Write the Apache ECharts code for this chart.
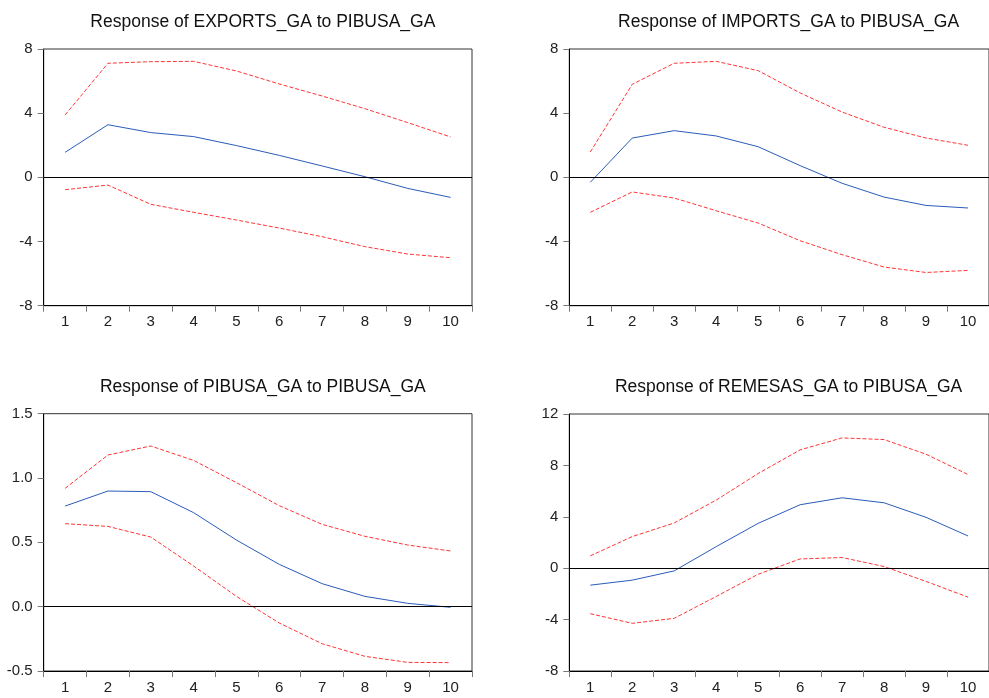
<!DOCTYPE html>
<html>
<head>
<meta charset="utf-8">
<script src="https://cdn.jsdelivr.net/npm/echarts@6/dist/echarts.min.js"></script>
<style>
  html, body { margin: 0; padding: 0; background: #fff; }
  #chart { width: 989px; height: 698px; }
</style>
</head>
<body>
<div id="chart"></div>
<script>
// periods
var periods = ['1', '2', '3', '4', '5', '6', '7', '8', '9', '10'];

// Response of EXPORTS_GA to PIBUSA_GA
var exportsResp  = [1.56, 3.28, 2.79, 2.54, 1.98, 1.37, 0.71, 0.04, -0.69, -1.25];
var exportsUpper = [3.89, 7.11, 7.21, 7.23, 6.63, 5.82, 5.07, 4.28, 3.41, 2.52];
var exportsLower = [-0.77, -0.48, -1.68, -2.18, -2.66, -3.16, -3.70, -4.32, -4.78, -5.01];

// Response of IMPORTS_GA to PIBUSA_GA
var importsResp  = [-0.31, 2.45, 2.91, 2.58, 1.91, 0.73, -0.37, -1.23, -1.75, -1.91];
var importsUpper = [1.58, 5.80, 7.11, 7.23, 6.65, 5.26, 4.07, 3.12, 2.45, 2.00];
var importsLower = [-2.18, -0.91, -1.29, -2.08, -2.85, -3.95, -4.82, -5.59, -5.93, -5.80];

// Response of PIBUSA_GA to PIBUSA_GA
var pibusaResp  = [0.782, 0.899, 0.894, 0.731, 0.518, 0.329, 0.179, 0.080, 0.026, -0.005];
var pibusaUpper = [0.920, 1.179, 1.249, 1.137, 0.964, 0.785, 0.640, 0.547, 0.479, 0.433];
var pibusaLower = [0.645, 0.624, 0.541, 0.316, 0.080, -0.127, -0.288, -0.386, -0.433, -0.435];

// Response of REMESAS_GA to PIBUSA_GA
var remesasResp  = [-1.32, -0.93, -0.21, 1.68, 3.49, 4.94, 5.48, 5.09, 3.96, 2.51];
var remesasUpper = [0.96, 2.46, 3.52, 5.30, 7.37, 9.21, 10.14, 10.01, 8.87, 7.29];
var remesasLower = [-3.54, -4.29, -3.90, -2.20, -0.47, 0.72, 0.83, 0.13, -1.03, -2.25];

var panels = [
  { title: 'Response of EXPORTS_GA to PIBUSA_GA', resp: exportsResp, up: exportsUpper, lo: exportsLower,
    min: -8, max: 8, interval: 4, dec: 0, left: 43.7, top: 49, width: 428.3, height: 256.7 },
  { title: 'Response of IMPORTS_GA to PIBUSA_GA', resp: importsResp, up: importsUpper, lo: importsLower,
    min: -8, max: 8, interval: 4, dec: 0, left: 569.3, top: 49, width: 428.6, height: 256.7 },
  { title: 'Response of PIBUSA_GA to PIBUSA_GA', resp: pibusaResp, up: pibusaUpper, lo: pibusaLower,
    min: -0.5, max: 1.5, interval: 0.5, dec: 1, left: 43.7, top: 413.7, width: 428.3, height: 257.3 },
  { title: 'Response of REMESAS_GA to PIBUSA_GA', resp: remesasResp, up: remesasUpper, lo: remesasLower,
    min: -8, max: 12, interval: 4, dec: 0, left: 569.3, top: 414, width: 428.6, height: 257 }
];

var font = 'Arial, "Liberation Sans", sans-serif';
var blue = '#2b5cb8';
var red = '#ff3535';

var titles = [], grids = [], xAxes = [], yAxes = [], series = [];

panels.forEach(function (p, i) {
  titles.push({
    text: p.title,
    left: p.left + p.width / 2,
    top: p.top - 41,
    textAlign: 'center',
    textStyle: { fontFamily: font, fontSize: 17.5, fontWeight: 'normal', color: '#111' }
  });
  grids.push({
    left: p.left, top: p.top, width: p.width, height: p.height,
    show: true, borderColor: '#333', borderWidth: 1, containLabel: false
  });
  xAxes.push({
    type: 'category',
    gridIndex: i,
    data: periods,
    boundaryGap: true,
    axisLine: { onZero: false, lineStyle: { color: '#000', width: 1 } },
    axisTick: { show: true, inside: false, length: 6, lineStyle: { color: '#777' } },
    axisLabel: { fontFamily: font, fontSize: 15, color: '#222', margin: 9 },
    splitLine: { show: false }
  });
  yAxes.push({
    type: 'value',
    gridIndex: i,
    min: p.min, max: p.max, interval: p.interval,
    axisLine: { show: true, onZero: false, lineStyle: { color: '#000', width: 1 } },
    axisTick: { show: true, inside: false, length: 6, lineStyle: { color: '#777' } },
    axisLabel: {
      fontFamily: font, fontSize: 15, color: '#222', margin: 11,
      formatter: function (v) { return v.toFixed(p.dec); }
    },
    splitLine: { show: false }
  });
  series.push({
    type: 'line', xAxisIndex: i, yAxisIndex: i, data: p.resp,
    symbol: 'none', lineStyle: { color: blue, width: 1 }, silent: true,
    markLine: {
      silent: true, symbol: 'none', label: { show: false },
      lineStyle: { color: '#000', width: 1, type: 'solid' },
      data: [{ yAxis: 0 }], animation: false
    },
    animation: false
  });
  series.push({
    type: 'line', xAxisIndex: i, yAxisIndex: i, data: p.up,
    symbol: 'none', lineStyle: { color: red, width: 1, type: [4, 2] }, silent: true, animation: false
  });
  series.push({
    type: 'line', xAxisIndex: i, yAxisIndex: i, data: p.lo,
    symbol: 'none', lineStyle: { color: red, width: 1, type: [4, 2] }, silent: true, animation: false
  });
});

var myChart = echarts.init(document.getElementById('chart'));
myChart.setOption({
  backgroundColor: '#fff',
  animation: false,
  title: titles,
  grid: grids,
  xAxis: xAxes,
  yAxis: yAxes,
  series: series
});
</script>
</body>
</html>
